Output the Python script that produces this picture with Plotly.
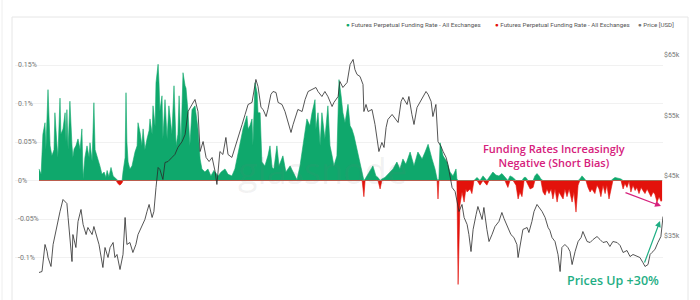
import numpy as np
import pandas as pd
import plotly.graph_objects as go

# ---------------- data ----------------
base_date = "2021-01-01"

funding_day = [
    0.0, 0.7, 1.3, 2.0, 2.3, 3.0, 3.7, 4.3, 5.0, 5.3,
    6.0, 6.3, 7.0, 7.3, 8.0, 8.7, 9.0, 9.3, 9.7, 10.3,
    11.0, 11.3, 11.7, 12.3, 13.0, 13.7, 14.3, 14.7, 15.3, 16.0,
    16.7, 17.0, 17.7, 18.3, 18.7, 19.3, 20.0, 20.3, 21.0, 21.7,
    22.3, 22.7, 23.3, 24.0, 24.7, 25.7, 26.3, 27.0, 27.7, 28.0,
    28.7, 29.0, 29.3, 29.7, 30.3, 31.0, 31.7, 32.0, 32.7, 33.0,
    33.7, 34.3, 34.7, 35.3, 36.0, 36.7, 37.0, 37.7, 38.0, 38.7,
    39.0, 39.7, 40.0, 40.3, 41.0, 41.3, 42.0, 42.7, 43.3, 44.0,
    44.3, 45.0, 45.7, 46.3, 46.7, 47.3, 48.0, 48.7, 49.0, 49.7,
    50.3, 51.0, 52.0, 53.0, 53.7, 54.3, 55.3, 56.3, 57.3, 58.3,
    59.7, 60.7, 62.0, 63.0, 64.3, 65.3, 66.0, 67.0, 68.0, 69.3,
    69.7, 70.3, 71.0, 71.3, 72.0, 72.7, 73.0, 73.7, 74.0, 74.3,
    75.3, 76.3, 77.0, 77.7, 78.3, 79.3, 80.0, 81.3, 82.3, 83.7,
    84.7, 86.0, 87.0, 88.0, 89.3, 90.3, 91.0, 92.0, 92.3, 93.0,
    93.7, 94.3, 95.3, 96.3, 97.0, 97.7, 98.3, 99.3, 100.0, 100.7,
    101.3, 102.0, 102.7, 103.0, 103.7, 104.3, 105.0, 106.0, 107.0, 107.7,
    108.3, 108.7, 109.3, 110.3, 111.3, 112.3, 113.0, 113.7, 114.3, 115.3,
    116.3, 117.0, 118.0, 119.3, 120.3, 121.3, 122.3, 123.7, 125.0, 126.3,
    127.7, 128.7, 129.7, 131.0, 132.0, 132.7, 133.0, 133.3, 133.7, 134.7,
    136.0, 137.0, 138.0, 139.0, 139.3, 139.7, 140.0, 140.3, 141.0, 141.7,
    142.3, 142.7, 143.7, 144.3, 145.0, 146.0, 147.0, 148.0, 149.3, 150.0,
    150.7, 151.3, 152.3, 153.3, 154.3, 155.3, 156.3, 157.0, 158.0, 159.0,
    159.7, 160.3, 161.0, 161.7, 162.3, 163.0, 163.7, 164.7, 165.3, 166.0,
    166.7, 167.3, 168.0, 168.7, 169.3, 170.0, 170.7, 171.3, 172.0, 172.7,
    173.3, 174.0, 174.7, 175.3, 176.0, 176.7, 177.7, 178.3, 179.0, 179.7,
    180.3, 181.0, 181.7, 182.3, 183.0, 183.7, 184.3, 185.3, 186.0, 186.7,
    187.3, 188.0, 188.7, 189.3, 190.0, 190.7, 191.3, 192.0, 193.0, 194.0,
    194.7, 195.3, 196.0, 196.7, 197.3, 198.0, 198.7, 199.3, 200.0, 200.7,
    201.3, 202.0, 202.7, 203.3, 204.0, 204.7, 205.3, 206.0, 206.7, 207.3,
    207.7,
]
funding_rate = [  # percent
    0.015, 0.008, 0.060, 0.075, 0.040, 0.118, 0.045, 0.032, 0.040, 0.088,
    0.045, 0.030, 0.107, 0.060, 0.067, 0.088, 0.050, 0.092, 0.040, 0.103,
    0.045, 0.030, 0.041, 0.045, 0.054, 0.040, 0.067, 0.002, 0.030, 0.045,
    0.030, 0.049, 0.025, 0.101, 0.040, 0.032, 0.025, 0.019, 0.008, 0.011,
    0.004, 0.013, 0.005, 0.017, 0.006, 0.002, -0.004, -0.006, -0.003, 0.011,
    0.030, 0.114, 0.050, 0.024, 0.015, 0.019, 0.035, 0.037, 0.045, 0.075,
    0.062, 0.045, 0.067, 0.040, 0.054, 0.065, 0.080, 0.060, 0.097, 0.070,
    0.127, 0.151, 0.127, 0.090, 0.110, 0.054, 0.105, 0.054, 0.097, 0.067,
    0.060, 0.123, 0.045, 0.060, 0.110, 0.045, 0.140, 0.123, 0.120, 0.088,
    0.045, 0.092, 0.097, 0.067, 0.028, 0.015, 0.011, 0.015, 0.006, 0.013,
    0.006, 0.011, 0.015, 0.008, 0.006, 0.015, 0.028, 0.045, 0.067, 0.084,
    0.067, 0.071, 0.080, 0.045, 0.127, 0.114, 0.088, 0.088, 0.045, 0.024,
    0.019, 0.032, 0.045, 0.017, 0.015, 0.045, 0.019, 0.032, 0.011, 0.019,
    0.011, 0.001, 0.019, 0.045, 0.080, 0.071, 0.088, 0.105, 0.067, 0.088,
    0.045, 0.088, 0.054, 0.097, 0.045, 0.032, 0.019, 0.032, 0.131, 0.110,
    0.088, 0.075, 0.092, 0.099, 0.071, 0.067, 0.058, 0.041, 0.024, 0.011,
    -0.021, 0.002, 0.006, 0.011, 0.019, 0.006, 0.004, -0.011, 0.002, 0.004,
    0.008, 0.011, 0.015, 0.024, 0.015, 0.028, 0.021, 0.037, 0.019, 0.037,
    0.028, 0.037, 0.047, 0.028, 0.015, 0.002, -0.024, 0.002, 0.049, 0.032,
    0.024, 0.011, 0.006, 0.015, 0.002, -0.135, -0.067, -0.032, -0.015, -0.028,
    -0.011, -0.015, -0.011, -0.017, 0.000, 0.004, -0.006, 0.006, -0.006, 0.004,
    0.008, 0.011, 0.007, 0.006, 0.009, 0.004, -0.009, 0.006, 0.004, -0.006,
    -0.024, -0.015, -0.021, 0.004, 0.004, -0.006, -0.011, -0.009, 0.006, 0.009,
    0.006, 0.002, -0.015, -0.019, -0.011, -0.017, -0.011, -0.024, -0.011, -0.028,
    -0.015, -0.019, -0.024, -0.011, -0.021, -0.011, -0.028, -0.015, -0.041, -0.006,
    0.002, 0.006, 0.003, 0.000, -0.009, -0.015, -0.011, -0.017, -0.006, -0.011,
    -0.021, -0.006, -0.017, -0.006, -0.024, -0.009, 0.002, 0.004, 0.003, 0.002,
    -0.011, -0.004, -0.009, -0.001, -0.015, -0.006, -0.013, -0.009, -0.017, -0.009,
    -0.013, -0.017, -0.011, -0.015, -0.021, -0.015, -0.018, -0.028, -0.021, -0.027,
    -0.026,
]

price_day = [
    0.0, 1.0, 2.0, 2.7, 3.0, 4.0, 4.7, 6.0, 7.0, 8.0,
    8.7, 9.3, 9.7, 10.3, 11.0, 11.3, 12.3, 13.0, 14.0, 14.7,
    15.7, 16.3, 17.7, 18.3, 19.3, 20.0, 21.3, 22.0, 23.0, 23.7,
    24.7, 25.3, 26.0, 27.0, 28.0, 28.7, 29.3, 30.3, 31.3, 32.3,
    33.0, 34.3, 35.3, 36.0, 36.7, 37.7, 38.3, 39.0, 39.7, 40.3,
    41.3, 42.0, 43.0, 44.3, 45.3, 46.3, 47.7, 48.7, 49.7, 51.0,
    52.0, 53.0, 53.7, 54.7, 55.7, 56.7, 57.7, 58.7, 59.3, 60.3,
    61.3, 62.3, 63.0, 64.3, 65.7, 66.3, 67.7, 68.7, 69.7, 71.0,
    71.7, 72.3, 73.0, 74.0, 74.7, 75.7, 76.3, 77.3, 78.0, 79.0,
    79.7, 81.0, 82.0, 83.0, 84.0, 84.7, 85.7, 86.3, 87.7, 88.7,
    89.7, 91.0, 92.3, 93.0, 94.3, 95.3, 96.3, 97.7, 98.3, 99.7,
    100.3, 101.3, 102.7, 103.7, 104.7, 105.3, 106.0, 107.0, 108.0, 108.3,
    109.0, 109.7, 111.0, 112.0, 112.7, 113.3, 114.3, 115.0, 115.7, 116.3,
    117.7, 118.7, 119.7, 120.7, 121.3, 122.7, 123.3, 124.3, 125.0, 126.0,
    127.0, 128.0, 129.0, 129.7, 130.7, 131.3, 132.3, 133.0, 134.0, 134.7,
    135.7, 136.3, 137.7, 138.7, 139.3, 140.0, 141.0, 141.7, 142.7, 143.3,
    144.0, 144.7, 145.7, 146.3, 147.7, 148.3, 149.3, 150.0, 151.0, 152.0,
    153.3, 154.3, 155.0, 156.3, 157.3, 158.3, 159.3, 159.7, 160.7, 161.3,
    162.7, 163.3, 164.3, 165.0, 166.0, 166.7, 167.7, 168.7, 169.7, 170.3,
    171.0, 172.0, 173.0, 173.7, 174.3, 175.3, 176.3, 177.0, 177.7, 178.7,
    179.7, 180.7, 181.3, 182.7, 183.7, 184.7, 186.0, 187.0, 188.0, 189.3,
    190.3, 191.3, 192.7, 193.7, 194.7, 196.0, 197.0, 198.0, 199.3, 200.3,
    201.3, 202.0, 203.0, 203.7, 204.3, 205.3, 206.3, 207.3, 208.0,
]
price_usd = [
    28900, 29060, 33550, 32380, 31390, 29900, 33550, 36870, 39020, 41020,
    40680, 40350, 38030, 34710, 30720, 35200, 33050, 37360, 39360, 36870,
    35200, 36370, 35200, 36530, 34870, 33550, 29730, 33050, 31390, 33050,
    33880, 31390, 31890, 29400, 31890, 38030, 33550, 33880, 32220, 33550,
    35200, 36530, 37700, 39020, 40190, 38030, 39020, 43010, 46330, 46000,
    44340, 47160, 47320, 47990, 48490, 49650, 50640, 51800, 55620, 56790,
    57620, 55620, 48980, 50640, 47990, 47320, 47990, 45660, 43510, 48980,
    48490, 51310, 48490, 48000, 50150, 50980, 53470, 55130, 56790, 57120,
    58940, 60940, 59770, 56290, 55960, 54790, 55960, 58450, 58940, 58780,
    57120, 56790, 55620, 53960, 52140, 53470, 55130, 55960, 55620, 57620,
    58940, 59280, 59610, 58940, 58110, 58940, 58110, 56450, 57120, 58110,
    60600, 59610, 60440, 63430, 64260, 62600, 61770, 61440, 60110, 55620,
    56790, 55620, 55960, 53470, 51310, 48980, 50480, 49650, 52970, 54300,
    55130, 54460, 53800, 57290, 57950, 56790, 58110, 55130, 53470, 56290,
    57120, 57950, 58940, 58450, 57290, 54790, 56790, 50640, 49820, 48980,
    47990, 46830, 43010, 42340, 40680, 39020, 40190, 38030, 36870, 35200,
    32380, 36040, 38520, 39850, 37700, 39690, 36040, 34040, 35200, 36530,
    37360, 38860, 37860, 36370, 35200, 34710, 33550, 31390, 34380, 36040,
    36370, 35540, 37360, 39020, 40190, 39690, 39020, 38030, 36370, 35870,
    34710, 34040, 31890, 29060, 33050, 33550, 33050, 32380, 30220, 32380,
    34040, 34710, 35700, 34040, 33880, 34380, 34870, 34380, 33880, 34040,
    33220, 34040, 33880, 33380, 32220, 32550, 31550, 31890, 31550, 31390,
    30560, 29900, 30220, 31890, 32220, 32710, 33880, 34870, 38190,
]

left_tickvals = [-0.15, -0.1, -0.05, 0, 0.05, 0.1, 0.15]
left_ticktext = ["-0.15%", "-0.1%", "-0.05%", "0%", "0.05%", "0.1%", "0.15%"]
right_tickvals = [25000, 35000, 45000, 55000, 65000]
right_ticktext = ["$25k", "$35k", "$45k", "$55k", "$65k"]

legend_names = [
    "Futures Perpetual Funding Rate - All Exchanges",
    "Futures Perpetual Funding Rate - All Exchanges",
    "Price [USD]",
]

# ---------------- styling ----------------
GREEN = "#0fa86c"
RED = "#e3120b"
PRICE = "#2a2a2a"
PINK = "#d6217c"
TEAL = "#1fae84"

base = pd.Timestamp(base_date)
fx = base + pd.to_timedelta(np.array(funding_day), unit="D")
px_ = base + pd.to_timedelta(np.array(price_day), unit="D")
fr = np.array(funding_rate)

fig = go.Figure()
fig.add_trace(go.Scatter(
    x=fx, y=np.maximum(fr, 0), mode="lines", fill="tozeroy",
    line=dict(color=GREEN, width=0.6), fillcolor=GREEN,
    name=legend_names[0], showlegend=False, hoverinfo="skip"))
fig.add_trace(go.Scatter(
    x=fx, y=np.minimum(fr, 0), mode="lines", fill="tozeroy",
    line=dict(color=RED, width=0.6), fillcolor=RED,
    name=legend_names[1], showlegend=False, hoverinfo="skip"))
fig.add_trace(go.Scatter(
    x=px_, y=price_usd, mode="lines", yaxis="y2",
    line=dict(color=PRICE, width=0.8),
    name=legend_names[2], showlegend=False))

# plot area in pixels: x 15..663, y 45..296
L, R, T, B = 15, 663, 45, 296
W, H = R - L, B - T


def pxp(x):
    return (x - L) / W


def pyp(y):
    return (B - y) / H


tick_font = dict(family="Roboto", size=7, color="#777777")

fig.update_layout(
    width=700, height=300,
    margin=dict(l=L, r=700 - R, t=T, b=300 - B),
    paper_bgcolor="white", plot_bgcolor="white",
    xaxis=dict(range=[base - pd.Timedelta(days=8), base + pd.Timedelta(days=208)],
               visible=False),
    yaxis=dict(range=[-0.15, 0.176], tickvals=left_tickvals, ticktext=left_ticktext,
               ticklabelposition="inside", tickfont=tick_font,
               showgrid=True, gridcolor="#f1f1f1", gridwidth=1,
               zeroline=False, showline=False, ticks=""),
    yaxis2=dict(range=[25000, 66660], tickvals=right_tickvals, ticktext=right_ticktext,
                overlaying="y", side="right", tickfont=tick_font,
                showgrid=False, zeroline=False, showline=False, ticks=""),
    showlegend=False,
)

# card borders
fig.add_shape(type="rect", xref="paper", yref="paper",
              x0=pxp(12), x1=pxp(688), y0=pyp(312), y1=pyp(17),
              line=dict(color="#e6e6e6", width=1), fillcolor="rgba(0,0,0,0)")
fig.add_shape(type="line", xref="paper", yref="paper",
              x0=pxp(2), x1=pxp(2), y0=pyp(312), y1=pyp(0),
              line=dict(color="#eeeeee", width=1))

# legend (as text)
legend_colors = [GREEN, RED, "#777777"]
legend_x = [344, 493, 636]
for name, col, lx in zip(legend_names, legend_colors, legend_x):
    fig.add_annotation(
        xref="paper", yref="paper", x=pxp(lx), y=pyp(25),
        xanchor="left", yanchor="middle", showarrow=False,
        text=f"<span style='color:{col}'>●</span> {name}",
        font=dict(family="Roboto", size=6.2, color="#555555"))

# watermark
fig.add_annotation(xref="paper", yref="paper", x=pxp(322), y=pyp(170),
                   xanchor="center", yanchor="middle",
                   text="glassnode", showarrow=False,
                   font=dict(family="Open Sans", size=36, color="rgba(120,120,120,0.10)"))

# call-outs
fig.add_annotation(xref="paper", yref="paper", x=pxp(554), y=pyp(155.5),
                   xanchor="center", yanchor="middle",
                   text="Funding Rates Increasingly<br>Negative (Short Bias)",
                   showarrow=False, align="center",
                   font=dict(family="Open Sans", size=11, color=PINK, weight=600))
fig.add_annotation(xref="paper", yref="paper", x=pxp(613), y=pyp(280),
                   xanchor="center", yanchor="middle",
                   text="Prices Up +30%", showarrow=False,
                   font=dict(family="Open Sans", size=12.5, color=TEAL, weight=600))

fig.add_annotation(xref="paper", yref="paper", x=pxp(661), y=pyp(206),
                   ax=-37, ay=-14, text="", showarrow=True,
                   arrowhead=2, arrowsize=1, arrowwidth=1.2, arrowcolor=PINK)
fig.add_annotation(xref="paper", yref="paper", x=pxp(660), y=pyp(221),
                   ax=-16, ay=43, text="", showarrow=True,
                   arrowhead=2, arrowsize=1, arrowwidth=1.2, arrowcolor=TEAL)

fig.write_html("out.html")
